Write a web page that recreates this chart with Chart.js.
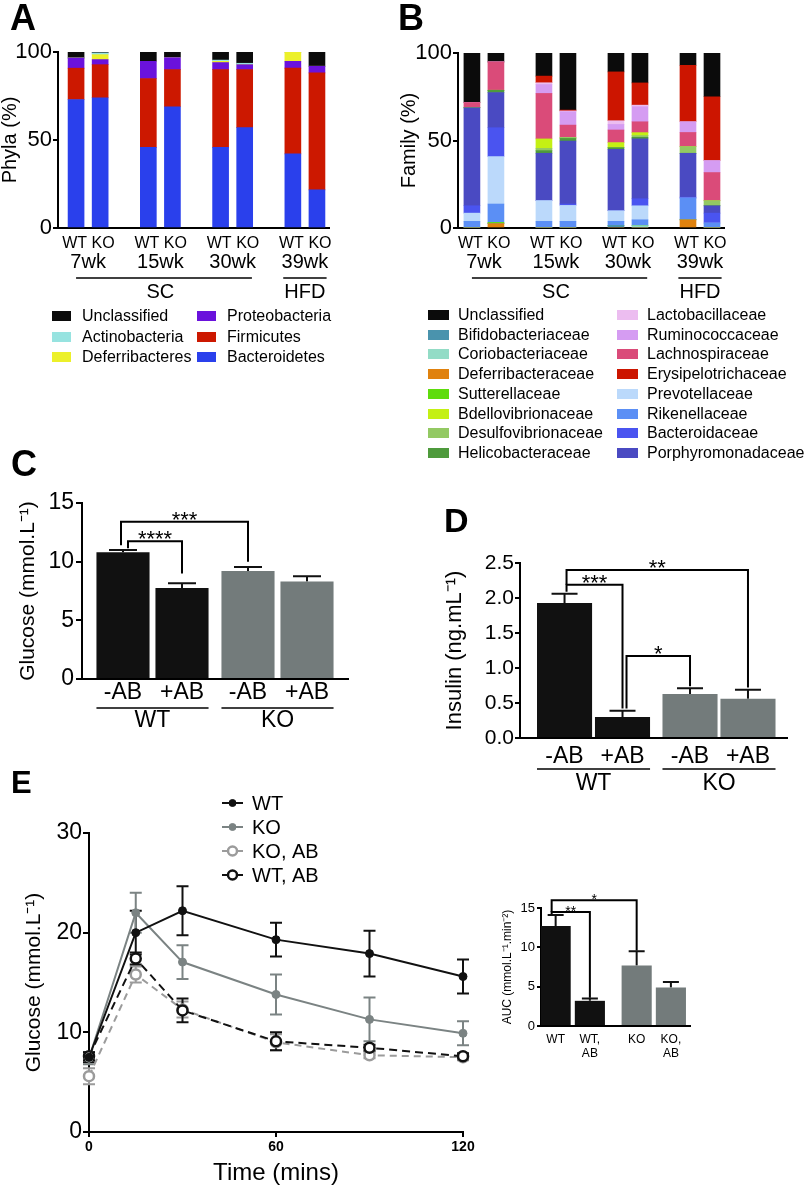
<!DOCTYPE html>
<html lang="en">
<head>
<meta charset="UTF-8">
<title>Microbiota, glucose and insulin panels</title>
<script src="https://cdn.jsdelivr.net/npm/chart.js"></script>
<style>
  body { margin: 0; background: #fff; font-family: Arial, "Liberation Sans", sans-serif; }
  #page { position: relative; width: 809px; height: 1189px; overflow: hidden; }
  canvas, .letter, .key, .swatch { position: absolute; }
  .letter { font-weight: bold; white-space: nowrap; }
  .key { font-size: 16px; line-height: 18px; white-space: nowrap; }
</style>
</head>
<body>
<div id="page">
  <canvas id="chartA" style="left:0;top:0" width="345" height="310"></canvas>
  <canvas id="chartB" style="left:400px;top:0" width="409" height="310"></canvas>
  <canvas id="chartC" style="left:0;top:440px" width="360" height="300"></canvas>
  <canvas id="chartD" style="left:430px;top:500px" width="379" height="300"></canvas>
  <canvas id="chartE" style="left:0;top:760px" width="480" height="429"></canvas>
  <canvas id="chartAUC" style="left:490px;top:880px" width="220" height="190"></canvas>
  <div class="letter" style="left:10px;top:0;font-size:36px;line-height:36px">A</div>
  <div class="letter" style="left:398px;top:0;font-size:36px;line-height:36px">B</div>
  <div class="letter" style="left:11px;top:446px;font-size:36px;line-height:36px">C</div>
  <div class="letter" style="left:444px;top:503px;font-size:34px;line-height:34px">D</div>
  <div class="letter" style="left:11px;top:767px;font-size:31px;line-height:31px">E</div>
</div>
<script>
// ---------- data ----------
const timepoints = ['7wk', '15wk', '30wk', '39wk'];
const genotypes = ['WT', 'KO'];
const diets = ['SC', 'SC', 'SC', 'HFD'];   // diet of each timepoint

// Phyla (%), bars in order WT7, KO7, WT15, KO15, WT30, KO30, WT39, KO39
const bacteroidetes   = [73.0, 74.0, 45.8, 68.9, 45.8, 57.0, 42.1, 21.7];
const firmicutes      = [17.8, 18.8, 39.1, 21.1, 44.2, 33.0, 48.7, 66.4];
const proteobacteria  = [5.8, 2.9, 9.8, 6.8, 4.0, 2.8, 3.9, 3.8];
const deferribacteres = [0, 2.8, 0, 0, 0.7, 0, 5.3, 0];
const actinobacteria  = [0, 1.0, 0, 0, 0.7, 0.8, 0, 0];
const phylaUnclass    = [3.4, 0.5, 5.3, 3.2, 4.6, 6.4, 0, 8.1];

// Family (%), same bar order
const deferribacteraceae  = [0, 2.5, 0, 0, 0, 0, 4.7, 0];
const bifidobacteriaceae  = [0, 0, 0, 0, 1.5, 0, 0, 0];
const coriobacteriaceae   = [0, 0, 0, 0, 0, 1.3, 0, 0];
const sutterellaceae      = [0, 0.7, 0, 0, 0, 0, 0, 0];
const rikenellaceae       = [3.8, 10.5, 3.8, 3.8, 2.3, 3.4, 12.4, 2.8];
const prevotellaceae      = [4.7, 27.1, 11.9, 9.1, 6.1, 8.0, 0, 0];
const bacteroidaceae      = [4.2, 16.5, 0, 0.8, 0, 4.0, 0.5, 5.7];
const porphyromonadaceae  = [56.0, 20.1, 27.0, 36.0, 35.1, 34.2, 25.1, 4.2];
const helicobacteraceae   = [0, 1.3, 1.5, 1.5, 0.9, 0.9, 0, 0];
const desulfovibrionaceae = [0, 0, 1.3, 0.6, 0, 1.0, 3.8, 2.9];
const bdellovibrionaceae  = [0, 0, 5.4, 0, 2.9, 1.7, 0, 0];
const lachnospiraceae     = [3.0, 16.2, 26.0, 7.0, 7.2, 6.2, 8.1, 16.1];
const ruminococcaceae     = [0, 0, 5.1, 7.6, 3.2, 8.6, 6.1, 6.8];
const lactobacillaceae    = [0, 0, 1.0, 0.5, 2.1, 0.9, 0, 0];
const erysipelotrichaceae = [0, 0, 3.8, 0.5, 27.9, 12.7, 32.3, 36.5];
const familyUnclass       = [28.3, 5.1, 13.2, 32.6, 10.8, 17.1, 7.0, 25.0];

// C: fasting glucose (mmol/L), per genotype WT, KO
const treatments = ['-AB', '+AB'];
const glucoseNoAB = [10.8, 9.2];
const glucoseNoABsem = [0.2, 0.35];
const glucoseAB = [7.75, 8.3];
const glucoseABsem = [0.4, 0.45];

// D: insulin (ng/mL)
const insulinNoAB = [1.93, 0.63];
const insulinNoABsem = [0.13, 0.08];
const insulinAB = [0.30, 0.56];
const insulinABsem = [0.09, 0.13];

// E: glucose tolerance test
const ogttTime = [0, 15, 30, 60, 90, 120];
const ogttWT = [7.5, 20.0, 22.2, 19.3, 17.9, 15.6];
const ogttWTsem = [0.5, 2.2, 2.45, 1.7, 2.3, 1.7];
const ogttKO = [7.4, 22.0, 17.05, 13.8, 11.3, 9.9];
const ogttKOsem = [0.6, 2.0, 1.7, 2.0, 2.2, 1.2];
const ogttKOAB = [5.6, 15.8, 12.3, 9.0, 7.7, 7.5];
const ogttKOABsem = [0.8, 0.8, 0.8, 0.8, 0.3, 0.3];
const ogttWTAB = [7.6, 17.4, 12.2, 9.1, 8.45, 7.6];
const ogttWTABsem = [0.4, 0.6, 1.2, 0.9, 0.3, 0.3];

// E inset: AUC
const aucLabels = [['WT'], ['KO']];
const aucNoAB = [12.7, 7.7];
const aucNoABsem = [1.4, 1.8];
const aucAB = [3.2, 4.9];
const aucABsem = [0.3, 0.7];

// ---------- styling ----------
const FONT = 'Arial, "Liberation Sans", Helvetica, sans-serif';
Chart.defaults.font.family = FONT;
Chart.defaults.color = '#000';
const BLACK = '#111111';
const GREY = '#737b7b';
const genotypeColors = [BLACK, GREY];

// stacking order bottom -> top
const phylaStack = [
  { name: 'Bacteroidetes', color: '#2a40ec', values: bacteroidetes },
  { name: 'Firmicutes', color: '#cc1800', values: firmicutes },
  { name: 'Proteobacteria', color: '#6a12dc', values: proteobacteria },
  { name: 'Deferribacteres', color: '#ecf02a', values: deferribacteres },
  { name: 'Actinobacteria', color: '#97e3e0', values: actinobacteria },
  { name: 'Unclassified', color: '#0b0b0b', values: phylaUnclass }
];
const familyStack = [
  { name: 'Deferribacteraceae', color: '#e0820e', values: deferribacteraceae },
  { name: 'Bifidobacteriaceae', color: '#4a93ad', values: bifidobacteriaceae },
  { name: 'Coriobacteriaceae', color: '#93dcc6', values: coriobacteriaceae },
  { name: 'Sutterellaceae', color: '#5fdc0c', values: sutterellaceae },
  { name: 'Rikenellaceae', color: '#5b8ff5', values: rikenellaceae },
  { name: 'Prevotellaceae', color: '#bbd9fb', values: prevotellaceae },
  { name: 'Bacteroidaceae', color: '#4a54f0', values: bacteroidaceae },
  { name: 'Porphyromonadaceae', color: '#4a4ac2', values: porphyromonadaceae },
  { name: 'Helicobacteraceae', color: '#4e9a3c', values: helicobacteraceae },
  { name: 'Desulfovibrionaceae', color: '#93c963', values: desulfovibrionaceae },
  { name: 'Bdellovibrionaceae', color: '#c4f014', values: bdellovibrionaceae },
  { name: 'Lachnospiraceae', color: '#da4b79', values: lachnospiraceae },
  { name: 'Ruminococcaceae', color: '#d59cf2', values: ruminococcaceae },
  { name: 'Lactobacillaceae', color: '#ecbdf0', values: lactobacillaceae },
  { name: 'Erysipelotrichaceae', color: '#cc1500', values: erysipelotrichaceae },
  { name: 'Unclassified', color: '#0b0b0b', values: familyUnclass }
];
const phylaKeyColumns = [
  ['Unclassified', 'Actinobacteria', 'Deferribacteres'],
  ['Proteobacteria', 'Firmicutes', 'Bacteroidetes']
];
const familyKeyColumns = [
  ['Unclassified', 'Bifidobacteriaceae', 'Coriobacteriaceae', 'Deferribacteraceae',
   'Sutterellaceae', 'Bdellovibrionaceae', 'Desulfovibrionaceae', 'Helicobacteraceae'],
  ['Lactobacillaceae', 'Ruminococcaceae', 'Lachnospiraceae', 'Erysipelotrichaceae',
   'Prevotellaceae', 'Rikenellaceae', 'Bacteroidaceae', 'Porphyromonadaceae']
];

// bar slot on the x axis: a gap between timepoints
const slotOf = i => Math.floor(i / genotypes.length) * 3 + (i % genotypes.length);
const barSlots = timepoints.flatMap((t, g) => genotypes.map((_, k) => slotOf(g * genotypes.length + k)));

function dietRuns() {
  const runs = [];
  diets.forEach((d, g) => {
    const last = runs[runs.length - 1];
    if (last && last.diet === d) last.last = g;
    else runs.push({ diet: d, first: g, last: g });
  });
  return runs;
}

// ---------- plugins ----------
const sampleLabels = {
  id: 'sampleLabels',
  afterDraw(chart) {
    const { ctx, chartArea: a, scales: { x } } = chart;
    const u = x.getPixelForValue(1) - x.getPixelForValue(0);
    const mid = g => x.getPixelForValue(g * 3 + 0.5);
    ctx.save();
    ctx.fillStyle = '#000';
    ctx.strokeStyle = '#000';
    ctx.textAlign = 'center';
    ctx.textBaseline = 'middle';
    ctx.font = '16px ' + FONT;
    // WT and KO sit a little apart from each other, as in the print
    timepoints.forEach((t, g) => genotypes.forEach((gt, k) =>
      ctx.fillText(gt, x.getPixelForValue(g * 3 + k) + (k === 0 ? -1.5 : 3), a.bottom + 16)));
    ctx.font = '20px ' + FONT;
    timepoints.forEach((t, g) => ctx.fillText(t, mid(g), a.bottom + 34));
    dietRuns().forEach(r => {
      const single = r.first === r.last;
      const x1 = mid(r.first) - (single ? 0.9 : 0.5) * u;
      const x2 = mid(r.last) + (single ? 0.9 : 0.8) * u;
      ctx.lineWidth = 1.5;
      ctx.beginPath();
      ctx.moveTo(x1, a.bottom + 50);
      ctx.lineTo(x2, a.bottom + 50);
      ctx.stroke();
      ctx.fillText(r.diet, (mid(r.first) + mid(r.last)) / 2, a.bottom + 64);
    });
    ctx.restore();
  }
};

const errorBars = {
  id: 'errorBars',
  beforeDatasetsDraw(chart, args, o) {
    const { ctx, scales: { y } } = chart;
    ctx.save();
    chart.data.datasets.forEach((ds, d) => {
      if (!ds.errors) return;
      chart.getDatasetMeta(d).data.forEach((el, i) => {
        const v = ds.data[i].y, e = ds.errors[i];
        const top = y.getPixelForValue(v + e);
        const bot = o.upperOnly ? y.getPixelForValue(v) : y.getPixelForValue(v - e);
        ctx.strokeStyle = ds.errorColor || BLACK;
        ctx.lineWidth = 2;
        ctx.beginPath();
        ctx.moveTo(el.x, top);
        ctx.lineTo(el.x, bot);
        ctx.moveTo(el.x - o.cap / 2, top);
        ctx.lineTo(el.x + o.cap / 2, top);
        if (!o.upperOnly) {
          ctx.moveTo(el.x - o.cap / 2, bot);
          ctx.lineTo(el.x + o.cap / 2, bot);
        }
        ctx.stroke();
      });
    });
    ctx.restore();
  }
};

const brackets = {
  id: 'brackets',
  afterDatasetsDraw(chart, args, o) {
    const { ctx, scales: { y } } = chart;
    const px = (d, i) => chart.getDatasetMeta(d).data[i].x;
    ctx.save();
    ctx.lineWidth = 2;
    ctx.strokeStyle = '#000';
    ctx.fillStyle = '#000';
    ctx.font = o.size + 'px ' + FONT;
    ctx.textAlign = 'center';
    ctx.textBaseline = 'alphabetic';
    o.items.forEach(b => {
      const x1 = px(...b.from) + (b.dx1 || 0);
      const x2 = px(...b.to) + (b.dx2 || 0);
      const yl = y.getPixelForValue(b.y);
      ctx.beginPath();
      ctx.moveTo(x1, y.getPixelForValue(b.y1));
      ctx.lineTo(x1, yl);
      ctx.lineTo(x2, yl);
      ctx.lineTo(x2, y.getPixelForValue(b.y2));
      ctx.stroke();
      ctx.fillText(b.text, (x1 + x2) / 2, yl + o.shift);
    });
    ctx.restore();
  }
};

const barAxisLabels = {
  id: 'barAxisLabels',
  afterDraw(chart, args, o) {
    const { ctx, chartArea: a } = chart;
    const el = (d, i) => chart.getDatasetMeta(d).data[i];
    ctx.save();
    ctx.fillStyle = '#000';
    ctx.strokeStyle = '#000';
    ctx.textAlign = 'center';
    ctx.textBaseline = 'middle';
    ctx.font = o.size + 'px ' + FONT;
    o.bars.forEach(b => b.lines.forEach((ln, k) =>
      ctx.fillText(ln, el(b.d, b.i).x, a.bottom + o.barY + k * (o.lineGap || 0))));
    (o.groups || []).forEach(g => {
      const l = el(...g.from), r = el(...g.to);
      const x1 = l.x - l.width / 2, x2 = r.x + r.width / 2;
      ctx.lineWidth = 1.5;
      ctx.beginPath();
      ctx.moveTo(x1, a.bottom + o.ruleY);
      ctx.lineTo(x2, a.bottom + o.ruleY);
      ctx.stroke();
      ctx.fillText(g.text, (x1 + x2) / 2, a.bottom + o.groupY);
    });
    ctx.restore();
  }
};

const lineKey = {
  id: 'lineKey',
  afterDraw(chart, args, o) {
    const { ctx, chartArea: a } = chart;
    ctx.save();
    chart.data.datasets.forEach((ds, k) => {
      const y = a.top + o.dy + k * o.gap, x = a.left + o.dx;
      ctx.setLineDash([]);
      ctx.strokeStyle = ds.borderColor;
      ctx.lineWidth = 2;
      ctx.beginPath();
      ctx.moveTo(x, y);
      ctx.lineTo(x + 21, y);
      ctx.stroke();
      ctx.beginPath();
      ctx.arc(x + 10.5, y, ds.pointRadius - 0.5, 0, 2 * Math.PI);
      ctx.fillStyle = ds.pointBackgroundColor;
      ctx.fill();
      ctx.lineWidth = ds.pointBorderWidth;
      ctx.strokeStyle = ds.pointBorderColor;
      ctx.stroke();
      ctx.fillStyle = '#000';
      ctx.font = o.size + 'px ' + FONT;
      ctx.textAlign = 'left';
      ctx.textBaseline = 'middle';
      ctx.fillText(ds.label, x + 30, y + 1);
    });
    ctx.restore();
  }
};

// ---------- helpers ----------
function baseOptions(top, right) {
  return {
    responsive: false,
    animation: false,
    events: [],
    layout: { autoPadding: false, padding: { top: top, right: right, bottom: 0, left: 0 } },
    plugins: { legend: { display: false }, tooltip: { enabled: false } }
  };
}

function yScale(o) {
  const ticks = { stepSize: o.step, autoSkip: false, font: { size: o.tick }, padding: o.pad };
  if (o.fmt) ticks.callback = o.fmt;
  return {
    min: o.min, max: o.max, bounds: 'data', stacked: !!o.stacked,
    ticks: ticks,
    grid: { drawOnChartArea: false, drawTicks: true, tickLength: o.len, lineWidth: 2, color: '#000' },
    border: { display: true, width: 2, color: '#000' },
    title: { display: true, text: o.title, font: { size: o.titleSize, lineHeight: 1 }, padding: { top: o.titlePad, bottom: 0 } },
    afterFit: s => { s.width = o.width; }
  };
}

function xBarScale(o) {
  return {
    type: 'linear', min: o.min, max: o.max, bounds: 'data', offset: false, stacked: !!o.stacked,
    ticks: { display: false },
    grid: { display: false },
    border: { display: true, width: 2, color: '#000' },
    afterBuildTicks: s => { s.ticks = o.ticks.map(v => ({ value: v })); },
    afterFit: s => { s.height = o.height; }
  };
}

function stackedChart(id, stack, title, geo) {
  const options = baseOptions(geo.top, geo.right);
  options.scales = {
    x: xBarScale({ min: geo.xmin, max: geo.xmax, stacked: true, ticks: barSlots, height: 82 }),
    y: yScale({ min: 0, max: 100, step: 50, stacked: true, tick: 22, pad: 1, len: 5,
                title: title, titleSize: 20, titlePad: geo.titlePad, width: 58 })
  };
  return new Chart(document.getElementById(id), {
    type: 'bar',
    data: {
      datasets: stack.map(s => ({
        label: s.name,
        data: s.values.map((v, i) => ({ x: slotOf(i), y: v })),
        backgroundColor: s.color,
        borderWidth: 0,
        barThickness: 16
      }))
    },
    options: options,
    plugins: [sampleLabels]
  });
}

function addKey(columns, stack, geo) {
  const page = document.getElementById('page');
  columns.forEach((col, c) => col.forEach((name, r) => {
    const s = stack.find(it => it.name === name);
    const cy = geo.y0 + r * geo.gap;
    const sw = document.createElement('div');
    sw.className = 'swatch';
    sw.style.cssText = `left:${geo.sw[c]}px;top:${cy - 5}px;width:${geo.swW}px;height:10px;background:${s.color}`;
    const t = document.createElement('div');
    t.className = 'key';
    t.style.cssText = `left:${geo.tx[c]}px;top:${cy - 9}px`;
    t.textContent = name;
    page.append(sw, t);
  }));
}

function pairedBars(first, firstSem, second, secondSem) {
  return [
    { data: first.map((v, i) => ({ x: i, y: v })), errors: firstSem },
    { data: second.map((v, i) => ({ x: i, y: v })), errors: secondSem }
  ].map(ds => Object.assign(ds, { backgroundColor: genotypeColors, borderWidth: 0 }));
}

// ---------- A & B ----------
stackedChart('chartA', phylaStack, 'Phyla (%)', { top: 52, right: 16, xmin: -0.75, xmax: 10.5, titlePad: 0 });
stackedChart('chartB', familyStack, 'Family (%)', { top: 53, right: 85, xmin: -0.58, xmax: 10.5, titlePad: -1 });
addKey(phylaKeyColumns, phylaStack, { y0: 316, gap: 20.5, sw: [52, 197], swW: 19, tx: [82, 227] });
addKey(familyKeyColumns, familyStack, { y0: 315, gap: 19.7, sw: [428, 617], swW: 21, tx: [458, 647] });

// ---------- C ----------
(function () {
  const options = baseOptions(63, 12);
  options.datasets = { bar: { categoryPercentage: 0.944, barPercentage: 0.9 } };
  options.scales = {
    x: xBarScale({ min: -0.564, max: 1.564, ticks: [0, 1], height: 61 }),
    y: yScale({ min: 0, max: 15, step: 5, tick: 23, pad: 2, len: 6,
                title: 'Glucose (mmol.L⁻¹)', titleSize: 21, titlePad: 18, width: 82 })
  };
  options.plugins.errorBars = { cap: 28, upperOnly: true };
  options.plugins.brackets = {
    size: 22, shift: 5,
    items: [
      { from: [0, 0], to: [0, 1], y: 13.4, y1: 11.4, y2: 10.0, text: '***', dx1: -2 },
      { from: [0, 0], to: [1, 0], y: 11.75, y1: 11.15, y2: 9.0, text: '****', dx1: 5 }
    ]
  };
  options.plugins.barAxisLabels = {
    size: 23, barY: 14, ruleY: 29, groupY: 42,
    bars: genotypes.flatMap((g, i) => treatments.map((t, d) => ({ d: d, i: i, lines: [t] }))),
    groups: genotypes.map((g, i) => ({ from: [0, i], to: [1, i], text: g }))
  };
  new Chart(document.getElementById('chartC'), {
    type: 'bar',
    data: { datasets: pairedBars(glucoseNoAB, glucoseNoABsem, glucoseAB, glucoseABsem) },
    options: options,
    plugins: [errorBars, brackets, barAxisLabels]
  });
})();

// ---------- D ----------
(function () {
  const options = baseOptions(63, 22);
  options.datasets = { bar: { categoryPercentage: 0.924, barPercentage: 0.95 } };
  options.scales = {
    x: xBarScale({ min: -0.586, max: 1.542, ticks: [0, 1], height: 62 }),
    y: yScale({ min: 0, max: 2.5, step: 0.5, tick: 21, pad: 1, len: 5, fmt: v => v.toFixed(1),
                title: 'Insulin (ng.mL⁻¹)', titleSize: 22, titlePad: 14, width: 90 })
  };
  options.plugins.errorBars = { cap: 26, upperOnly: true };
  options.plugins.brackets = {
    size: 22, shift: 5,
    items: [
      { from: [0, 0], to: [1, 1], y: 2.4, y1: 2.19, y2: 0.72, text: '**', dx1: 2 },
      { from: [0, 0], to: [1, 0], y: 2.19, y1: 2.09, y2: 0.42, text: '***', dx1: 2 },
      { from: [1, 0], to: [0, 1], y: 1.17, y1: 0.42, y2: 0.74, text: '*', dx1: 4 }
    ]
  };
  options.plugins.barAxisLabels = {
    size: 23, barY: 18.5, ruleY: 31, groupY: 45.5,
    bars: genotypes.flatMap((g, i) => treatments.map((t, d) => ({ d: d, i: i, lines: [t] }))),
    groups: genotypes.map((g, i) => ({ from: [0, i], to: [1, i], text: g }))
  };
  new Chart(document.getElementById('chartD'), {
    type: 'bar',
    data: { datasets: pairedBars(insulinNoAB, insulinNoABsem, insulinAB, insulinABsem) },
    options: options,
    plugins: [errorBars, brackets, barAxisLabels]
  });
})();

// ---------- E ----------
(function () {
  const series = [
    { label: 'WT', values: ogttWT, sem: ogttWTsem, color: BLACK, open: false, dash: [], order: 0 },
    { label: 'KO', values: ogttKO, sem: ogttKOsem, color: '#7b8383', open: false, dash: [], order: 1 },
    { label: 'KO, AB', values: ogttKOAB, sem: ogttKOABsem, color: '#9b9b9b', open: true, dash: [7, 5], order: 3 },
    { label: 'WT, AB', values: ogttWTAB, sem: ogttWTABsem, color: BLACK, open: true, dash: [8, 5], order: 2 }
  ];
  const options = baseOptions(73, 17);
  options.scales = {
    x: {
      type: 'linear', min: 0, max: 120, bounds: 'data',
      ticks: { stepSize: 60, autoSkip: false, font: { size: 14, weight: 'bold' }, padding: 2 },
      grid: { drawOnChartArea: false, drawTicks: true, tickLength: 5, lineWidth: 2, color: '#000' },
      border: { display: true, width: 2, color: '#000' },
      title: { display: true, text: 'Time (mins)', font: { size: 24, lineHeight: 1 }, padding: { top: 0, bottom: 4 } },
      afterFit: s => { s.height = 57; }
    },
    y: yScale({ min: 0, max: 30, step: 10, tick: 23, pad: 1, len: 6,
                title: 'Glucose (mmol.L⁻¹)', titleSize: 21, titlePad: 24, width: 89 })
  };
  options.plugins.errorBars = { cap: 12, upperOnly: false };
  options.plugins.lineKey = { dx: 133, dy: -30, gap: 24, size: 20 };
  new Chart(document.getElementById('chartE'), {
    type: 'line',
    data: {
      datasets: series.map(s => ({
        label: s.label,
        data: ogttTime.map((t, i) => ({ x: t, y: s.values[i] })),
        errors: s.sem,
        errorColor: s.color,
        borderColor: s.color,
        borderWidth: 2,
        borderDash: s.dash,
        tension: 0,
        pointRadius: s.open ? 5 : 4,
        pointBorderWidth: s.open ? 2.5 : 1,
        pointBackgroundColor: s.open ? '#fff' : s.color,
        pointBorderColor: s.color,
        clip: false,
        order: s.order
      }))
    },
    options: options,
    plugins: [errorBars, lineKey]
  });
})();

// ---------- E inset: AUC ----------
(function () {
  const options = baseOptions(28, 20);
  options.datasets = { bar: { categoryPercentage: 0.845, barPercentage: 0.88 } };
  options.scales = {
    x: xBarScale({ min: -0.392, max: 1.447, ticks: [0, 1], height: 44 }),
    y: yScale({ min: 0, max: 15, step: 5, tick: 13, pad: 2, len: 4,
                title: 'AUC (mmol.L⁻¹.min⁻²)', titleSize: 12, titlePad: 12, width: 51 })
  };
  options.plugins.errorBars = { cap: 16, upperOnly: true };
  options.plugins.brackets = {
    size: 14, shift: 4,
    items: [
      { from: [0, 0], to: [0, 1], y: 16.0, y1: 14.5, y2: 9.6, text: '*', dx1: -4 },
      { from: [0, 0], to: [1, 0], y: 14.5, y1: 14.2, y2: 3.6, text: '**', dx1: -4 }
    ]
  };
  options.plugins.barAxisLabels = {
    size: 12, barY: 14, lineGap: 14,
    bars: aucLabels.flatMap((g, i) => [
      { d: 0, i: i, lines: [g[0]] },
      { d: 1, i: i, lines: [g[0] + ',', 'AB'] }
    ])
  };
  new Chart(document.getElementById('chartAUC'), {
    type: 'bar',
    data: { datasets: pairedBars(aucNoAB, aucNoABsem, aucAB, aucABsem) },
    options: options,
    plugins: [errorBars, brackets, barAxisLabels]
  });
})();
</script>
</body>
</html>
